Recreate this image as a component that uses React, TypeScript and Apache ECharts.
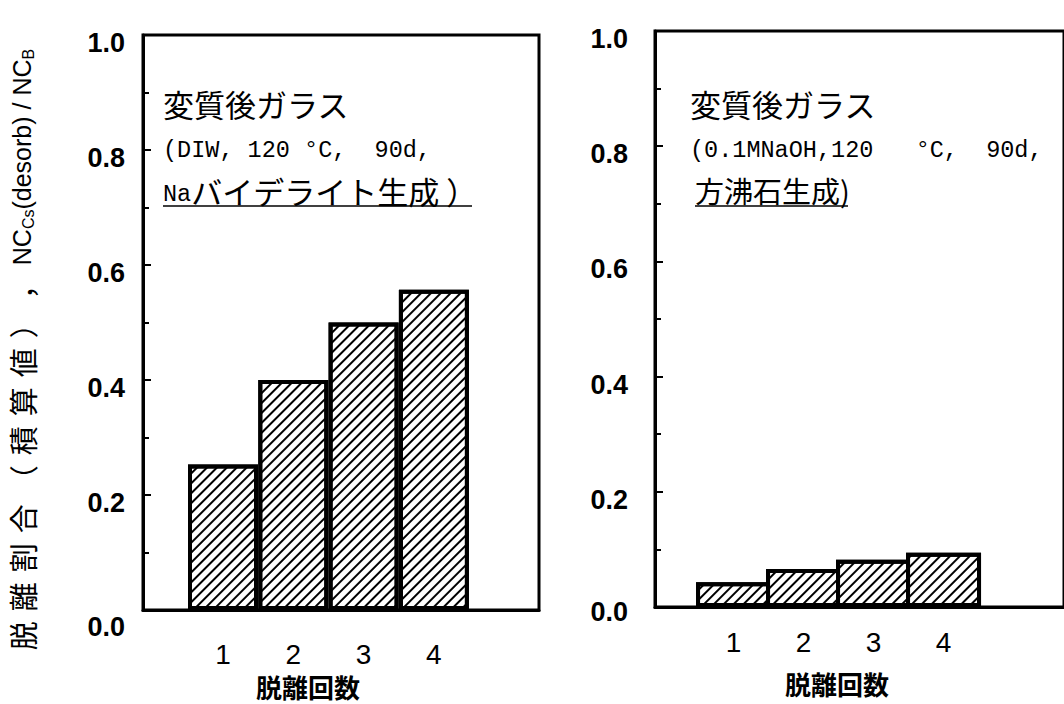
import React, { useEffect, useRef } from 'react';
import * as echarts from 'echarts';

// ---- data ----
const desorbCounts = [1, 2, 3, 4];
const leftValues = [0.253, 0.4, 0.5, 0.557]; // DIW, Naバイデライト生成
const rightValues = [0.043, 0.066, 0.082, 0.094]; // 0.1MNaOH, 方沸石生成
const xName = '脱離回数';
const yTitleJa = '脱離割合（積算値），';
const leftNote1 = '変質後ガラス';
const leftNote2 = '(DIW, 120 °C,  90d,';
const leftNote3a = 'Na';
const leftNote3b = 'バイデライト生成 ）';
const rightNote1 = '変質後ガラス';
const rightNote2 = '(0.1MNaOH,120   °C,  90d,';
const rightNote3 = '方沸石生成)';

const SANS = '"Liberation Sans", Arial, "Noto Sans CJK JP", sans-serif';
const CJK = '"Noto Sans CJK JP", sans-serif';
const MONO = '"Liberation Mono", "Noto Sans CJK JP", monospace';

const decal = {
  symbol: 'rect',
  symbolSize: 1,
  color: '#000',
  dashArrayX: [1, 0],
  dashArrayY: [1.3, 5],
  rotation: -Math.PI / 4,
};

function makeYAxis(gridIndex: number, pad: number, zeroPad: number, margin: number) {
  return {
    gridIndex,
    type: 'value',
    min: 0,
    max: 1,
    interval: 0.2,
    axisLine: { show: true, onZero: false, lineStyle: { color: '#000', width: 3 } },
    axisTick: { show: true, inside: true, length: 8, lineStyle: { color: '#000', width: 2 } },
    minorTick: { show: true, splitNumber: 2, length: 6, lineStyle: { color: '#000', width: 2 } },
    splitLine: { show: false },
    axisLabel: {
      margin,
      color: '#000',
      formatter: (v: number) => (v === 0 ? '{z|0.0}' : '{a|' + v.toFixed(1) + '}'),
      rich: {
        a: { fontFamily: SANS, fontSize: 27, fontWeight: 'bold', color: '#000', padding: [pad, 0, 0, 0] },
        z: { fontFamily: SANS, fontSize: 27, fontWeight: 'bold', color: '#000', padding: [zeroPad, 0, 0, 0] },
      },
    },
  };
}

function makeXAxis(gridIndex: number, min: number, max: number, margin: number) {
  return {
    gridIndex,
    type: 'value',
    min,
    max,
    axisLine: { show: true, onZero: false, lineStyle: { color: '#000', width: 3 } },
    axisTick: { show: false },
    splitLine: { show: false },
    axisLabel: {
      customValues: desorbCounts,
      margin,
      color: '#000',
      fontFamily: SANS,
      fontSize: 28,
      formatter: (v: number) => String(v),
    },
  };
}

function makeBars(idx: number, values: number[], width: number) {
  return {
    type: 'bar',
    xAxisIndex: idx,
    yAxisIndex: idx,
    barWidth: width,
    data: desorbCounts.map((c, i) => [c, values[i]]),
    itemStyle: { color: '#fff', borderColor: '#000', borderWidth: 4, decal },
  };
}

const yTitleRich =
  yTitleJa
    .split('')
    .map((c) => '{j|' + c + '}')
    .join('') + '{l|NC}{s|Cs}{l|(desorb) / NC}{s|B}';

const option = {
  animation: false,
  backgroundColor: '#fff',
  grid: [
    { left: 143, top: 35, width: 396, height: 575, show: true, borderColor: '#000', borderWidth: 3, backgroundColor: 'transparent' },
    { left: 655, top: 31, width: 440, height: 576, show: true, borderColor: '#000', borderWidth: 3, backgroundColor: 'transparent' },
  ],
  xAxis: [makeXAxis(0, -0.138, 5.495, 30), makeXAxis(1, -0.122, 5.721, 21)],
  yAxis: [makeYAxis(0, 15, 34, 18), makeYAxis(1, 16, 10, 27)],
  series: [makeBars(0, leftValues, 70), makeBars(1, rightValues, 75)],
  graphic: [
    {
      type: 'text',
      x: 22,
      y: 352,
      rotation: Math.PI / 2,
      style: {
        text: yTitleRich,
        fill: '#000',
        fontSize: 25,
        fontFamily: SANS,
        align: 'center',
        verticalAlign: 'middle',
        rich: {
          j: { fontSize: 29, fontFamily: CJK, fill: '#000', padding: [0, 5, 0, 5] },
          l: { fontSize: 25, fontFamily: SANS, fill: '#000' },
          s: { fontSize: 16, fontFamily: SANS, fill: '#000', padding: [13, 0, 0, 0] },
        },
      },
    },
    // left annotation
    { type: 'text', x: 163, y: 103, style: { text: leftNote1, fontSize: 31, fontFamily: CJK, fill: '#000', verticalAlign: 'middle' } },
    { type: 'text', x: 163, y: 150, style: { text: leftNote2, fontSize: 23.5, fontFamily: MONO, fill: '#000', verticalAlign: 'middle' } },
    {
      type: 'text',
      x: 163,
      y: 190,
      style: {
        text: '{m|' + leftNote3a + '}{j|' + leftNote3b + '}',
        verticalAlign: 'middle',
        fill: '#000',
        rich: {
          m: { fontFamily: MONO, fontSize: 23.5, fill: '#000', padding: [8, 0, 0, 0] },
          j: { fontFamily: CJK, fontSize: 31, fill: '#000' },
        },
      },
    },
    { type: 'line', shape: { x1: 163, y1: 206, x2: 472, y2: 206 }, style: { stroke: '#000', lineWidth: 1.5 } },
    // right annotation
    { type: 'text', x: 690, y: 103, style: { text: rightNote1, fontSize: 31, fontFamily: CJK, fill: '#000', verticalAlign: 'middle' } },
    { type: 'text', x: 690, y: 150, style: { text: rightNote2, fontSize: 23.5, fontFamily: MONO, fill: '#000', verticalAlign: 'middle' } },
    { type: 'text', x: 695, y: 190, style: { text: rightNote3, fontSize: 29, fontFamily: CJK, fill: '#000', verticalAlign: 'middle' } },
    { type: 'line', shape: { x1: 695, y1: 206, x2: 848, y2: 206 }, style: { stroke: '#000', lineWidth: 1.5 } },
    // x axis names
    { type: 'text', x: 308, y: 686, style: { text: xName, fontSize: 26, fontWeight: 'bold', fontFamily: CJK, fill: '#000', align: 'center', verticalAlign: 'middle' } },
    { type: 'text', x: 837, y: 683, style: { text: xName, fontSize: 26, fontWeight: 'bold', fontFamily: CJK, fill: '#000', align: 'center', verticalAlign: 'middle' } },
  ],
};

export default function App() {
  const ref = useRef<HTMLDivElement>(null);
  useEffect(() => {
    if (!ref.current) return;
    const chart = echarts.init(ref.current, null, { renderer: 'svg' });
    chart.setOption(option as any);
    return () => chart.dispose();
  }, []);
  return (
    <div
      ref={ref}
      style={{ position: 'absolute', left: 0, top: 0, width: 1064, height: 704, background: '#fff' }}
    />
  );
}
